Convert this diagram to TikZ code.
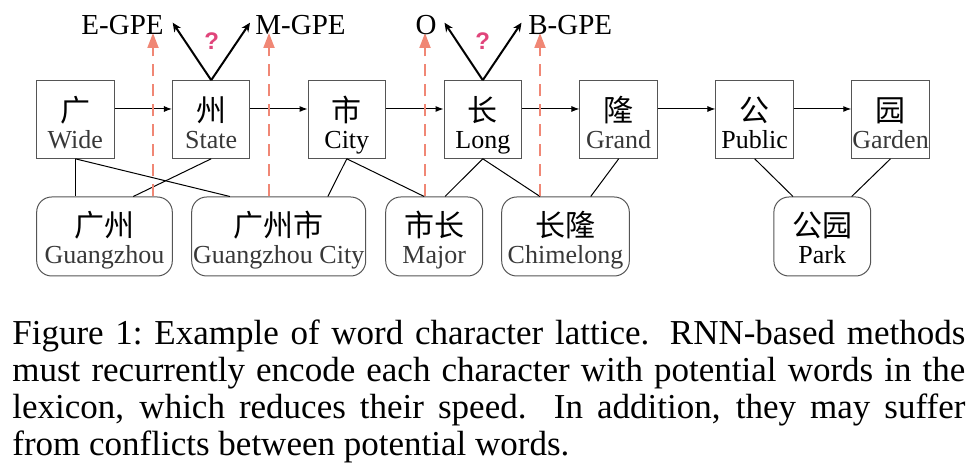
\documentclass[tikz,border=0pt]{standalone}
\usepackage{fontspec}
\setmainfont{Liberation Serif}
\newfontfamily\cjk{Noto Sans CJK SC}
\newfontfamily\qfont{Liberation Sans}
\usepackage{xcolor}
\definecolor{colProbe}{HTML}{F08775}
\definecolor{colAsk}{HTML}{E0457B}
\definecolor{colEdge}{HTML}{555555}
\usepackage{tikz}
\usetikzlibrary{arrows.meta, calc}
\tikzset{
  charbox/.style={draw=colEdge, line width=0.5pt, minimum width=38.75pt, minimum height=38.8pt, inner sep=0pt},
  wordbox/.style={draw=colEdge, line width=0.5pt, rounded corners=7.5pt, minimum height=39.5pt, inner sep=0pt},
  zh/.style={font=\cjk\fontsize{15}{15}\selectfont, anchor=base, inner sep=0pt},
  en/.style={font=\fontsize{13}{13}\selectfont, anchor=base, inner sep=0pt, text=black!78},
  enk/.style={en, text=black},
  tag/.style={font=\fontsize{14.5}{14.5}\selectfont, inner sep=0pt},
  ask/.style={font=\qfont\bfseries\fontsize{12}{12}\selectfont, text=colAsk, inner sep=0pt},
  link/.style={line width=0.5pt},
  seq/.style={line width=0.5pt, -{Latex[length=4pt, width=3pt]}},
  pick/.style={line width=1pt, -{Stealth[length=4.5pt, width=4pt]}},
  probe/.style={draw=colProbe, line width=1pt, dash pattern=on 6pt off 4pt, -{Triangle[length=7.5pt, width=5.5pt, fill=colProbe]}},
  caption/.style={font=\fontsize{17.5}{18.35}\selectfont, text width=476.5pt, align=justify, inner sep=0pt}
}
\begin{document}
\begin{tikzpicture}[x=0.5pt, y=-0.5pt]
        \useasboundingbox (0,0) rectangle (980,474);
        % Characters
        \node[charbox] (c1) at (75.3,119.5) {};
        \node[charbox] (c2) at (211.2,119.5) {};
        \node[charbox] (c3) at (346.8,119.5) {};
        \node[charbox] (c4) at (482.8,119.5) {};
        \node[charbox] (c5) at (618.7,119.5) {};
        \node[charbox] (c6) at (754.7,119.5) {};
        \node[charbox] (c7) at (890.5,119.5) {};
        \node[zh] (c1zh) at (75.3,122) {广};
        \node[zh] (c2zh) at (211.2,122) {州};
        \node[zh] (c3zh) at (346.8,122) {市};
        \node[zh] (c4zh) at (482.8,122) {长};
        \node[zh] (c5zh) at (618.7,122) {隆};
        \node[zh] (c6zh) at (754.7,122) {公};
        \node[zh] (c7zh) at (890.5,122) {园};
        \node[en] (c1en) at (75.3,148.5) {Wide};
        \node[en] (c2en) at (211.2,148.5) {State};
        \node[enk] (c3en) at (346.8,148.5) {City};
        \node[enk] (c4en) at (482.8,148.5) {Long};
        \node[en] (c5en) at (618.7,148.5) {Grand};
        \node[enk] (c6en) at (754.7,148.5) {Public};
        \node[en] (c7en) at (890.5,148.5) {Garden};
        % Words
        \node[wordbox, minimum width=67.8pt] (w1) at (104.5,236.5) {};
        \node[wordbox, minimum width=87pt] (w2) at (278.7,236.5) {};
        \node[wordbox, minimum width=48.5pt] (w3) at (434.2,236.5) {};
        \node[wordbox, minimum width=63.8pt] (w4) at (565.5,236.5) {};
        \node[wordbox, minimum width=48.4pt] (w5) at (822.3,236.5) {};
        \node[zh] (w1zh) at (104.5,237) {广州};
        \node[zh] (w2zh) at (278.7,237) {广州市};
        \node[zh] (w3zh) at (434.2,237) {市长};
        \node[zh] (w4zh) at (565.5,237) {长隆};
        \node[zh] (w5zh) at (822.3,237) {公园};
        \node[en] (w1en) at (104.5,263.5) {Guangzhou};
        \node[en] (w2en) at (278.7,263.5) {Guangzhou City};
        \node[en] (w3en) at (434.2,263.5) {Major};
        \node[en] (w4en) at (565.5,263.5) {Chimelong};
        \node[enk] (w5en) at (822.3,263.5) {Park};
        % Sequence
        \draw[seq] ([yshift=5.25pt]c1.east) -- ([yshift=5.25pt]c2.west);
        \draw[seq] ([yshift=5.25pt]c2.east) -- ([yshift=5.25pt]c3.west);
        \draw[seq] ([yshift=5.25pt]c3.east) -- ([yshift=5.25pt]c4.west);
        \draw[seq] ([yshift=5.25pt]c4.east) -- ([yshift=5.25pt]c5.west);
        \draw[seq] ([yshift=5.25pt]c5.east) -- ([yshift=5.25pt]c6.west);
        \draw[seq] ([yshift=5.25pt]c6.east) -- ([yshift=5.25pt]c7.west);
        % Lattice links
        \draw[link] (c1.south) -- (c1.south |- w1.north);
        \draw[link] (c2.south) -- ([xshift=14.4pt]w1.north);
        \draw[link] (c1.south) -- ([xshift=-24.4pt]w2.north);
        \draw[link] (c3.south) -- ([xshift=24.6pt]w2.north);
        \draw[link] (c3.south) -- ([xshift=-5pt]w3.north);
        \draw[link] (c4.south) -- ([xshift=5.4pt]w3.north);
        \draw[link] (c4.south) -- ([xshift=-12.75pt]w4.north);
        \draw[link] (c5.south) -- ([xshift=12.6pt]w4.north);
        \draw[link] (c6.south) -- ([xshift=-14.65pt]w5.north);
        \draw[link] (c7.south) -- ([xshift=14.7pt]w5.north);
        % Word signals
        \coordinate (p1) at (153,33);
        \coordinate (p2) at (269,33);
        \coordinate (p3) at (425,33);
        \coordinate (p4) at (540,33);
        \draw[probe] (p1 |- w1.north) -- (p1);
        \draw[probe] (p2 |- w2.north) -- (p2);
        \draw[probe] (p3 |- w3.north) -- (p3);
        \draw[probe] (p4 |- w4.north) -- (p4);
        % Label choices
        \coordinate (t1) at (172.7,22.7);
        \coordinate (t2) at (250,22.7);
        \coordinate (t3) at (444.5,22.7);
        \coordinate (t4) at (521.5,22.7);
        \draw[pick] (c2.north) -- (t1);
        \draw[pick] (c2.north) -- (t2);
        \draw[pick] (c4.north) -- (t3);
        \draw[pick] (c4.north) -- (t4);
        \node[tag, anchor=base east] (egpe) at (164,35) {E-GPE};
        \node[tag, anchor=base west] (mgpe) at (255,35) {M-GPE};
        \node[tag, anchor=base] (olab) at (426,35) {O};
        \node[tag, anchor=base west] (bgpe) at (528,35) {B-GPE};
        \node[ask] (q1) at (211.7,41) {?};
        \node[ask] (q2) at (482.7,41) {?};
        % Caption
        \node[caption, anchor=base west] (cap) at (12,345) {Figure 1:\ Example of word character lattice.  RNN-based methods\linebreak must recurrently encode each character with potential words in the\linebreak lexicon, which reduces their speed.  In addition, they may suffer\linebreak from conflicts between potential words.};
\end{tikzpicture}
\end{document}
